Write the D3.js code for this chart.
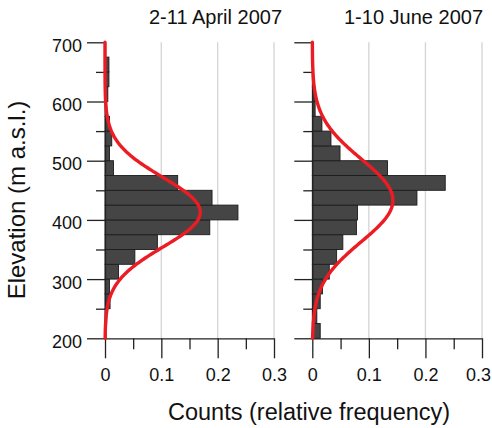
<!DOCTYPE html>
<html>
<head>
<meta charset="utf-8">
<script src="https://cdn.jsdelivr.net/npm/d3@7"></script>
<style>
  html, body { margin: 0; padding: 0; background: #fff; }
  svg { display: block; font-family: "Liberation Sans", Arial, sans-serif; }
</style>
</head>
<body>
<svg id="chart" width="492" height="428"></svg>
<script>
// Elevation bins (lower edge, m a.s.l.), 25 m wide
const binLower = [200, 225, 250, 275, 300, 325, 350, 375, 400, 425,
                  450, 475, 500, 525, 550, 575, 600, 625, 650, 675];
const binWidth = 25;

// Relative frequency per bin, 2-11 April 2007
const aprilFreq = [0.002, 0.003, 0.009, 0.008, 0.024, 0.053, 0.093, 0.186, 0.236, 0.190,
                   0.129, 0.015, 0.008, 0.012, 0.008, 0.003, 0.005, 0.007, 0.007, 0.000];
// Relative frequency per bin, 1-10 June 2007
const juneFreq  = [0.014, 0.008, 0.014, 0.018, 0.030, 0.043, 0.054, 0.078, 0.080, 0.185,
                   0.235, 0.133, 0.049, 0.033, 0.017, 0.005, 0.005, 0.002, 0.000, 0.000];

// Fitted normal distributions: [mean elevation, standard deviation]
const aprilFit = [413, 59];
const juneFit  = [433, 70];

const panelTitles = ["2-11 April 2007", "1-10 June 2007"];
const xMajorTicks = [0, 0.1, 0.2, 0.3];
const xMinorTicks = [0.05, 0.15, 0.25];
const yMajorTicks = [200, 300, 400, 500, 600, 700];
const yMinorTicks = [250, 350, 450, 550, 650];

const svg = d3.select("#chart");

const y = d3.scaleLinear().domain([200, 700]).range([338.3, 42.3]);

const panels = [
  { title: panelTitles[0], freq: aprilFreq, fit: aprilFit, x0: 105, x1: 274, labels: true, titleX: 149 },
  { title: panelTitles[1], freq: juneFreq,  fit: juneFit,  x0: 312.3, x1: 482, labels: false, titleX: 344 }
];

const fmt = d => d === 0 ? "0" : d3.format(".1f")(d);

panels.forEach((p, pi) => {
  const x = d3.scaleLinear().domain([0, 0.3]).range([p.x0, p.x1]);
  const g = svg.append("g");

  // vertical grid lines
  g.selectAll("line.grid")
    .data(xMajorTicks.filter(d => d > 0))
    .join("line")
    .attr("x1", d => x(d)).attr("x2", d => x(d))
    .attr("y1", y(700)).attr("y2", y(200))
    .attr("stroke", "#d6d6d6").attr("stroke-width", 1.4);

  // histogram bars
  const bins = binLower.map((lo, i) => ({ lo, v: p.freq[i] })).filter(b => b.v > 0);
  g.selectAll("rect.bar")
    .data(bins)
    .join("rect")
    .attr("x", x(0))
    .attr("y", d => y(d.lo + binWidth))
    .attr("width", d => x(d.v) - x(0))
    .attr("height", d => y(d.lo) - y(d.lo + binWidth))
    .attr("fill", "#454545")
    .attr("stroke", "#1c1c1c")
    .attr("stroke-width", 0.9);

  // y axis: major and minor ticks
  const yAxis = d3.axisLeft(y).tickValues(yMajorTicks).tickSize(18).tickSizeOuter(0).tickPadding(5)
    .tickFormat(p.labels ? d3.format("d") : () => "");
  const ya = g.append("g").attr("transform", `translate(${x(0)},0)`).call(yAxis);
  const yMinor = d3.axisLeft(y).tickValues(yMinorTicks).tickSize(9).tickSizeOuter(0).tickFormat(() => "");
  const ym = g.append("g").attr("transform", `translate(${x(0)},0)`).call(yMinor);
  ym.select(".domain").remove();

  // x axis: major and minor ticks
  const xAxis = d3.axisBottom(x).tickValues(xMajorTicks).tickSize(20).tickSizeOuter(0).tickPadding(10).tickFormat(fmt);
  const xa = g.append("g").attr("transform", `translate(0,${y(200)})`).call(xAxis);
  const xMinor = d3.axisBottom(x).tickValues(xMinorTicks).tickSize(11).tickSizeOuter(0).tickFormat(() => "");
  const xm = g.append("g").attr("transform", `translate(0,${y(200)})`).call(xMinor);
  xm.select(".domain").remove();

  [ya, ym, xa, xm].forEach(a => {
    a.selectAll("path, line").attr("stroke", "#222").attr("stroke-width", 1.3);
    a.selectAll("text").attr("font-size", 18).attr("fill", "#111")
      .attr("font-family", '"Liberation Sans", Arial, sans-serif');
  });
  ya.selectAll("text").attr("dy", "0.5em");
  // keep the last label of the right-hand panel inside the frame
  if (pi === 1) {
    xa.selectAll(".tick").filter(d => d === 0.3).select("text").attr("x", -4);
  }

  // fitted normal curve, scaled to bin width
  const [mu, sd] = p.fit;
  const dens = e => binWidth * Math.exp(-0.5 * ((e - mu) / sd) ** 2) / (sd * Math.sqrt(2 * Math.PI));
  const elev = d3.range(200, 700.1, 2);
  g.append("path")
    .datum(elev)
    .attr("d", d3.line().x(e => x(dens(e))).y(e => y(e)))
    .attr("fill", "none")
    .attr("stroke", "#ec1c24")
    .attr("stroke-width", 3.4)
    .attr("stroke-linejoin", "round")
    .attr("stroke-linecap", "round");

  // panel title
  svg.append("text")
    .attr("x", p.titleX).attr("y", 24)
    .attr("font-size", 20).attr("fill", "#111")
    .text(p.title);
});

// axis titles
svg.append("text")
  .attr("transform", "translate(25,200) rotate(-90)")
  .attr("text-anchor", "middle")
  .attr("font-size", 24).attr("fill", "#111")
  .text("Elevation (m a.s.l.)");

svg.append("text")
  .attr("x", 168).attr("y", 420)
  .attr("font-size", 23.5).attr("fill", "#111")
  .text("Counts (relative frequency)");
</script>
</body>
</html>
